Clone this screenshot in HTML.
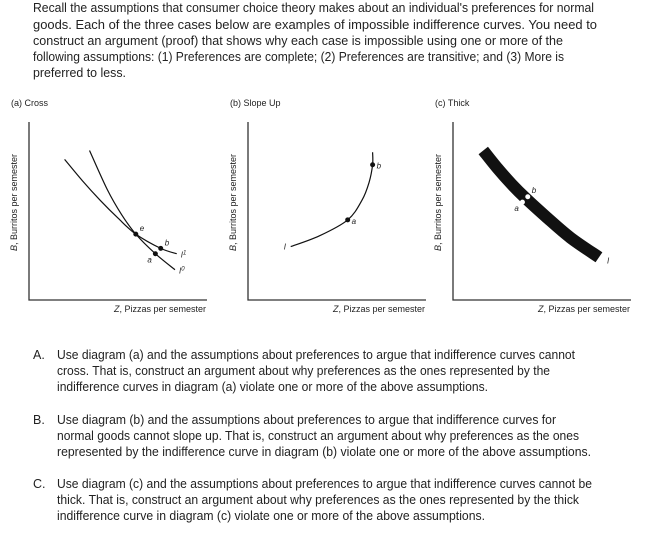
<!DOCTYPE html>
<html><head><meta charset="utf-8">
<style>
html,body{margin:0;padding:0;background:#fff;}
svg{display:block;}
.t{font-family:"Liberation Sans",sans-serif;font-size:12.5px;fill:#222;}
.s{font-family:"Liberation Sans",sans-serif;font-size:9px;fill:#222;}
.i{font-family:"Liberation Sans",sans-serif;font-size:8px;font-style:italic;fill:#222;}
</style></head>
<body>
<svg id="pg" width="652" height="549" viewBox="0 0 652 549">
<g>
<text class="t" x="33" y="12" textLength="561" lengthAdjust="spacingAndGlyphs">Recall the assumptions that consumer choice theory makes about an individual's preferences for normal</text>
<text class="t" x="33" y="29" textLength="564" lengthAdjust="spacingAndGlyphs">goods. Each of the three cases below are examples of impossible indifference curves. You need to</text>
<text class="t" x="33" y="45" textLength="530" lengthAdjust="spacingAndGlyphs">construct an argument (proof) that shows why each case is impossible using one or more of the</text>
<text class="t" x="33" y="61" textLength="531" lengthAdjust="spacingAndGlyphs">following assumptions: (1) Preferences are complete; (2) Preferences are transitive; and (3) More is</text>
<text class="t" x="33" y="77" textLength="93" lengthAdjust="spacingAndGlyphs">preferred to less.</text>
</g>
<g id="charts"></g>
<g>
<text class="t" x="33" y="359">A.</text>
<text class="t" x="57" y="359" textLength="518" lengthAdjust="spacingAndGlyphs">Use diagram (a) and the assumptions about preferences to argue that indifference curves cannot</text>
<text class="t" x="57" y="375" textLength="493" lengthAdjust="spacingAndGlyphs">cross. That is, construct an argument about why preferences as the ones represented by the</text>
<text class="t" x="57" y="391" textLength="431" lengthAdjust="spacingAndGlyphs">indifference curves in diagram (a) violate one or more of the above assumptions.</text>
</g>
<g>
<text class="t" x="33" y="424">B.</text>
<text class="t" x="57" y="424" textLength="499" lengthAdjust="spacingAndGlyphs">Use diagram (b) and the assumptions about preferences to argue that indifference curves for</text>
<text class="t" x="57" y="440" textLength="522" lengthAdjust="spacingAndGlyphs">normal goods cannot slope up. That is, construct an argument about why preferences as the ones</text>
<text class="t" x="57" y="456" textLength="534" lengthAdjust="spacingAndGlyphs">represented by the indifference curve in diagram (b) violate one or more of the above assumptions.</text>
</g>
<g>
<text class="t" x="33" y="488">C.</text>
<text class="t" x="57" y="488" textLength="535" lengthAdjust="spacingAndGlyphs">Use diagram (c) and the assumptions about preferences to argue that indifference curves cannot be</text>
<text class="t" x="57" y="504" textLength="522" lengthAdjust="spacingAndGlyphs">thick. That is, construct an argument about why preferences as the ones represented by the thick</text>
<text class="t" x="57" y="520" textLength="428" lengthAdjust="spacingAndGlyphs">indifference curve in diagram (c) violate one or more of the above assumptions.</text>
</g>
</svg>
<script>
// Data in unit coordinates (0..100 each axis) per panel
const panelTitles = ["(a) Cross", "(b) Slope Up", "(c) Thick"];
const panelX0 = [29, 248, 453];
const curveI0 = [[34,84],[44,62],[52,48],[60,37],[71,26],[82,17]];
const curveI1 = [[20,79],[30,67],[40,56],[50,46],[60,37],[74,29],[83,26]];
const curveSlope = [[24,30],[40,36],[56,45],[64,56],[68,66],[70,76],[70,83]];
const curveThick = [[17,84],[25,74],[33,65],[41,57],[52,47],[66,35],[82,24]];
const ptsA = [["e",60,37],["b",74,29],["a",71,26]];
const ptsB = [["a",56,45],["b",70,76]];
const ptsC = [["a",39,55],["b",42,58]];
const NS="http://www.w3.org/2000/svg";
const root=document.getElementById('charts');
const Y0=122, Y1=300, W=178;
function sx(p,v){return panelX0[p]+v/100*W;}
function sy(v){return Y1-v/100*(Y1-Y0);}
function mk(tag,attrs,parent){const e=document.createElementNS(NS,tag);for(const k in attrs)e.setAttribute(k,attrs[k]);(parent||root).appendChild(e);return e;}
function pathD(p,arr){
  let d="M"+sx(p,arr[0][0])+","+sy(arr[0][1]);
  for(let i=1;i<arr.length;i++){
    const a=arr[i-1],b=arr[i];
    const pa=arr[i-2]||a, nb=arr[i+1]||b;
    const c1x=a[0]+(b[0]-pa[0])/6,c1y=a[1]+(b[1]-pa[1])/6,c2x=b[0]-(nb[0]-a[0])/6,c2y=b[1]-(nb[1]-a[1])/6;
    d+=" C"+sx(p,c1x)+","+sy(c1y)+" "+sx(p,c2x)+","+sy(c2y)+" "+sx(p,b[0])+","+sy(b[1]);
  }
  return d;
}
for(let p=0;p<3;p++){
  const g=mk('g',{});
  
  
  const t=mk('text',{x:panelX0[p]-18,y:106,class:'s'},g);t.textContent=panelTitles[p];
  
  
  const ax=mk('path',{d:`M${panelX0[p]},${Y0} V${Y1} H${panelX0[p]+W}`,stroke:'#333','stroke-width':1.3,fill:'none'},g);
  
  
  const yl=mk('text',{x:0,y:0,class:'s',transform:`translate(${panelX0[p]-12},251) rotate(-90)`},g);
  yl.innerHTML='<tspan font-style="italic">B</tspan>, Burritos per semester';
  
  
  const xl=mk('text',{x:panelX0[p]+W-1,y:312,class:'s','text-anchor':'end'},g);
  xl.innerHTML='<tspan font-style="italic">Z</tspan>, Pizzas per semester';
  
  
  let curves=[],pts=[];
  if(p===0){curves=[[curveI0,'I0',1.2],[curveI1,'I1',1.2]];pts=ptsA;}
  if(p===1){curves=[[curveSlope,'I',1.2]];pts=ptsB;}
  if(p===2){curves=[[curveThick,'I',12]];pts=ptsC;}
  curves.forEach(c=>{
    const el=mk('path',{d:pathD(p,c[0]),stroke:'#111','stroke-width':c[2],fill:'none'},g);
    
    
    const last=c[0][c[0].length-1], first=c[0][0];
    const lab=mk('text',{class:'i'},g);
    if(p===1){lab.setAttribute('x',sx(p,first[0])-7);lab.setAttribute('y',sy(first[1])+3);}
    else {lab.setAttribute('x',sx(p,last[0])+ (p===2?8:4));lab.setAttribute('y',sy(last[1])+(p===2?6:4));}
    lab.innerHTML=c[1].length>1?'I<tspan font-size="6" dy="-3">'+c[1][1]+'</tspan>':'I';
    
    
  });
  pts.forEach(q=>{
    const c=mk('circle',{cx:sx(p,q[1]),cy:sy(q[2]),r:2.5,fill:p===2?'#fff':'#111'},g);
    
    
    let dx=4,dy=-3;
    if(q[0]==='a'&&p!==1){dx=-8;dy=9;}
    if(p===1){dx=4;dy=4;}
    if(p===2&&q[0]==='b'){dx=4;dy=-4;}
    const l=mk('text',{class:'i',x:sx(p,q[1])+dx,y:sy(q[2])+dy},g);
    l.textContent=q[0];
    
    
  });
}
</script>
</body></html>
